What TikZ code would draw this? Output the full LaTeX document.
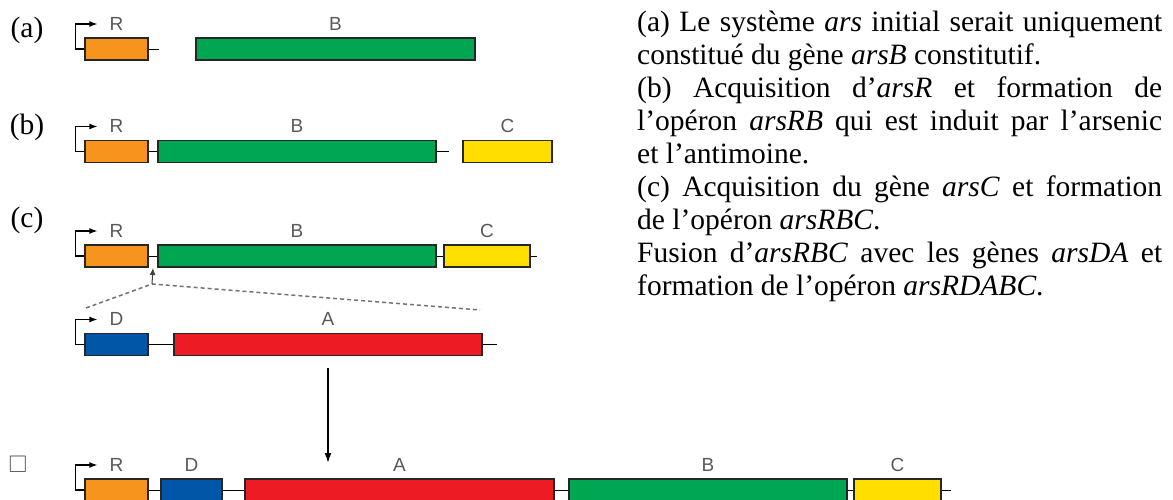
\documentclass[tikz,border=0pt]{standalone}
\usepackage{amssymb}
\usepackage{fontspec}
\setmainfont{Liberation Serif}
\newfontfamily\genefont{Liberation Sans}
\usetikzlibrary{arrows.meta, positioning}

\definecolor{geneR}{HTML}{F7941D}
\definecolor{geneB}{HTML}{00A651}
\definecolor{geneC}{HTML}{FFDE00}
\definecolor{geneD}{HTML}{0057A8}
\definecolor{geneA}{HTML}{ED1C24}

\newcommand{\promoter}[1]{\draw[prom] (#1.west) -- ++(-9,0) -- ++(0,-25) -- ++(22,0);}

\begin{document}
\begin{tikzpicture}[x=1pt, y=-1pt,
  gene/.style={draw=black!85, line width=1.2pt, inner sep=0pt, minimum height=22pt},
  glabel/.style={font=\genefont\fontsize{19}{19}\selectfont, text=black!65, inner sep=0pt},
  tag/.style={font=\fontsize{29.5}{33}\selectfont, inner sep=0pt},
  link/.style={line width=0.9pt},
  prom/.style={line width=1.3pt, -{Latex[length=8pt, width=6pt]}},
  arrow/.style={line width=1.5pt, -{Latex[length=10pt, width=7pt]}},
  ins/.style={draw=black!55, line width=1.5pt, dash pattern=on 4pt off 3pt},
]
  \useasboundingbox (0,0) rectangle (1173,500);

  % (a) arsB seul
  \node[tag] (ta) at (27,30) {(a)};
  \node[gene, fill=geneR, minimum width=63pt] (Ra) at (116.5,49) {};
  \node[gene, fill=geneB, minimum width=279pt] (Ba) at (335.5,49) {};
  \node[glabel, above=7pt of Ra] (lRa) {R};
  \node[glabel, above=7pt of Ba] (lBa) {B};
  \promoter{Ra}
  \draw[link] (Ra.east) -- ++(10,0);

  % (b) arsRB
  \node[tag] (tb) at (27,127) {(b)};
  \node[gene, fill=geneR, minimum width=63pt] (Rb) at (116.5,151.5) {};
  \node[gene, fill=geneB, minimum width=278pt] (Bb) at (297,151.5) {};
  \node[gene, fill=geneC, minimum width=89pt] (Cb) at (507.5,151.5) {};
  \node[glabel, above=7pt of Rb] (lRb) {R};
  \node[glabel, above=7pt of Bb] (lBb) {B};
  \node[glabel, above=7pt of Cb] (lCb) {C};
  \promoter{Rb}
  \draw[link] (Rb) -- (Bb);
  \draw[link] (Bb.east) -- ++(12,0);

  % (c) arsRBC
  \node[tag] (tc) at (27,220) {(c)};
  \node[gene, fill=geneR, minimum width=63pt] (Rc) at (116.5,256) {};
  \node[gene, fill=geneB, minimum width=278pt] (Bc) at (297,256) {};
  \node[gene, fill=geneC, minimum width=86pt] (Cc) at (487,256) {};
  \node[glabel, above=7pt of Rc] (lRc) {R};
  \node[glabel, above=7pt of Bc] (lBc) {B};
  \node[glabel, above=7pt of Cc] (lCc) {C};
  \promoter{Rc}
  \draw[link] (Rc) -- (Bc);
  \draw[link] (Bc) -- (Cc);
  \draw[link] (Cc.east) -- ++(6,0);

  % insertion de arsDA
  \coordinate (gap) at (153,268);
  \coordinate (apex) at (152,284);
  \coordinate (insL) at (86,308);
  \coordinate (insR) at (480,310);
  \draw[ins] (insL) -- (apex) -- (insR);
  \draw[black!75, line width=1pt, -{Latex[length=7pt, width=6pt]}] (apex) -- (gap);

  % arsDA
  \node[gene, fill=geneD, minimum width=63pt] (Dd) at (116.5,344.5) {};
  \node[gene, fill=geneA, minimum width=308pt] (Ad) at (328,344.5) {};
  \node[glabel, above=7pt of Dd] (lDd) {D};
  \node[glabel, above=7pt of Ad] (lAd) {A};
  \promoter{Dd}
  \draw[link] (Dd) -- (Ad);
  \draw[link] (Ad.east) -- ++(14,0);

  % arsRDABC
  \coordinate (insA) at (328,463);
  \draw[arrow] ([yshift=-12pt]Ad.south) -- (insA);
  \node[font=\fontsize{24}{24}\selectfont, text=black!65, inner sep=0pt] (tf) at (18,464) {$\square$};
  \node[gene, fill=geneR, minimum width=63pt] (Rf) at (116.5,490) {};
  \node[gene, fill=geneD, minimum width=61pt] (Df) at (191.5,490) {};
  \node[gene, fill=geneA, minimum width=309pt] (Af) at (399.5,490) {};
  \node[gene, fill=geneB, minimum width=278pt] (Bf) at (708,490) {};
  \node[gene, fill=geneC, minimum width=87pt] (Cf) at (897.5,490) {};
  \node[glabel, above=7pt of Rf] (lRf) {R};
  \node[glabel, above=7pt of Df] (lDf) {D};
  \node[glabel, above=7pt of Af] (lAf) {A};
  \node[glabel, above=7pt of Bf] (lBf) {B};
  \node[glabel, above=7pt of Cf] (lCf) {C};
  \promoter{Rf}
  \draw[link] (Rf) -- (Df);
  \draw[link] (Df) -- (Af);
  \draw[link] (Af) -- (Bf);
  \draw[link] (Bf) -- (Cf);
  \draw[link] (Cf.east) -- ++(9,0);

  % legende
  \node[anchor=base west, text width=525pt, align=justify, inner sep=0pt,
        font=\fontsize{29.5}{33}\selectfont\frenchspacing] (legend) at (637,32)
    {(a) Le système \textit{ars} initial serait uniquement\linebreak
     constitué du gène \textit{arsB} constitutif.\\
     (b) Acquisition d’\textit{arsR} et formation de\linebreak
     l’opéron \textit{arsRB} qui est induit par l’arsenic\linebreak
     et l’antimoine.\\
     (c) Acquisition du gène \textit{arsC} et formation\linebreak
     de l’opéron \textit{arsRBC}.\\
     Fusion d’\textit{arsRBC} avec les gènes \textit{arsDA} et\linebreak
     formation de l’opéron \textit{arsRDABC}.};
\end{tikzpicture}
\end{document}
